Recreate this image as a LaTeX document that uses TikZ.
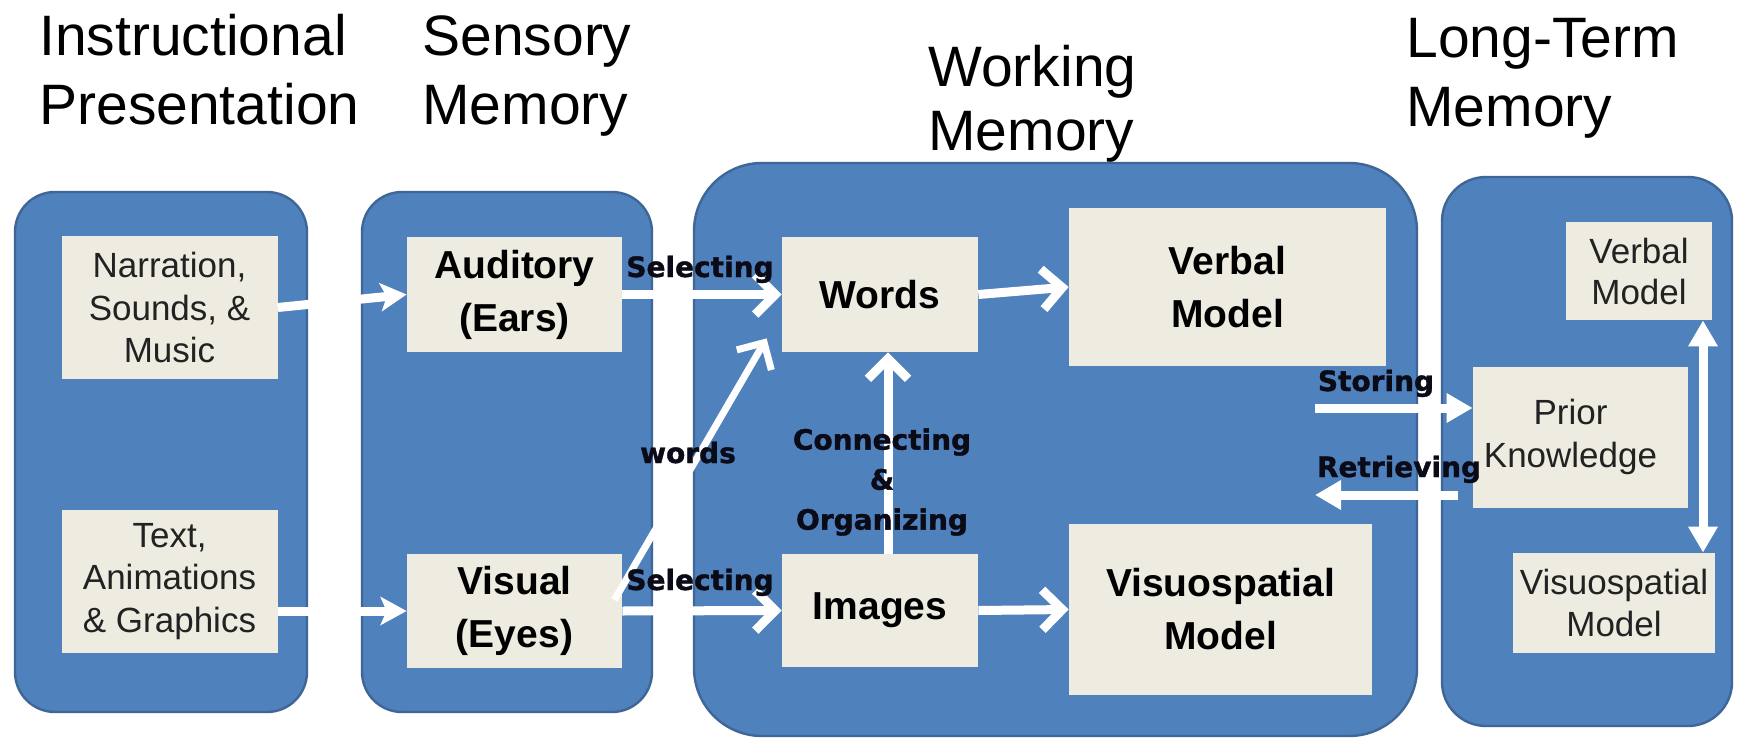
\documentclass[tikz,border=0pt]{standalone}
\usepackage{fontspec}
\setmainfont{Liberation Sans}
\newfontfamily\labfont{DejaVu Sans}[BoldFeatures={FakeBold=1.3}]
\usetikzlibrary{arrows.meta}
\definecolor{panelblue}{HTML}{4F81BD}
\definecolor{paneledge}{HTML}{3E6696}
\definecolor{boxbeige}{HTML}{EEECE1}
\definecolor{labink}{HTML}{0B0B18}
\definecolor{thinink}{HTML}{222222}
\begin{document}
\begin{tikzpicture}[x=0.5pt,y=0.5pt,
  panel/.style={fill=panelblue,draw=paneledge,line width=1.2pt},
  box/.style={fill=boxbeige,inner sep=0pt,align=center},
  thinbox/.style={box,text=thinink,font=\fontsize{17.5}{21.25}\selectfont},
  boldbox/.style={box,text=black,font=\bfseries\fontsize{19.5}{26.5}\selectfont},
  head/.style={anchor=base west,inner sep=0pt,font=\fontsize{28.5}{34.5}\selectfont},
  lab/.style={anchor=base,inner sep=0pt,text=labink,align=center,font=\labfont\bfseries\fontsize{14}{20}\selectfont},
  wa/.style={draw=white,line width=4.5pt},
  chev/.style={wa,-{Straight Barb[length=10pt,width=20pt]}},
  stl/.style={wa,-{Stealth[length=13pt,width=14pt,inset=3pt]}},
  tri/.style={wa,-{Triangle[length=13pt,width=14pt]}},
  dtri/.style={wa,{Triangle[length=13pt,width=14pt]}-{Triangle[length=13pt,width=14pt]}}
]
\useasboundingbox (0,0) rectangle (1743,740);
\fill[white] (0,0) rectangle (1743,740);

% headings
\node[head] (h1a) at (39,684) {Instructional};
\node[head] (h1b) at (39,615) {Presentation};
\node[head] (h2a) at (422,684) {Sensory};
\node[head] (h2b) at (422,615) {Memory};
\node[head] (h3a) at (928,653) {Working};
\node[head] (h3b) at (928,589) {Memory};
\node[head] (h4a) at (1406,682) {Long-Term};
\node[head] (h4b) at (1406,613) {Memory};

% panels
\draw[panel,rounded corners=20pt] (15,28) rectangle (307,548);
\draw[panel,rounded corners=20pt] (362,28) rectangle (652,548);
\draw[panel,rounded corners=34pt] (694,4) rectangle (1417,577);
\draw[panel,rounded corners=22pt] (1442,14) rectangle (1732,563);

% boxes
\node[thinbox,minimum width=108pt,minimum height=71pt] (narr) at (169.5,432.5) {Narration,\\Sounds, \&\\Music};
\node[thinbox,minimum width=108pt,minimum height=71.5pt] (text) at (169.5,158.5) {Text,\\Animations\\\& Graphics};
\node[boldbox,minimum width=107.5pt,minimum height=57.5pt] (aud) at (514.5,445.5) {Auditory\\(Ears)};
\node[boldbox,minimum width=107.5pt,minimum height=57pt] (vis) at (514.5,129) {Visual\\(Eyes)};
\node[boldbox,minimum width=98pt,minimum height=57.5pt] (words) at (880,445.5) {Words};
\node[boldbox,minimum width=98pt,minimum height=56.5pt] (img) at (880,129.5) {Images};
\node[boldbox,minimum width=158.5pt,minimum height=79pt] (vm) at (1227.5,453) {Verbal\\Model};
\node[boldbox,minimum width=151.5pt,minimum height=85.5pt] (vsm) at (1220.5,130.5) {Visuospatial\\Model};
\node[thinbox,minimum width=73pt,minimum height=49pt,font=\fontsize{17.5}{20.5}\selectfont] (lvm) at (1639,469) {Verbal\\Model};
\node[thinbox,minimum width=107.5pt,minimum height=70.5pt,font=\fontsize{17.5}{21.5}\selectfont] (prior) at (1580.5,302.5) {\begin{tabular}{@{}c@{\hspace{10pt}}}Prior\\Knowledge\end{tabular}};
\node[thinbox,minimum width=101pt,minimum height=50pt,font=\fontsize{17.5}{21}\selectfont] (lvs) at (1614,137) {Visuospatial\\Model};

% connectors
\draw[stl] (narr.east) -- (aud.west);
\draw[stl] (text.east |- vis.west) -- (vis.west);
\draw[chev] (aud.east) -- (words.west);
\draw[chev] (vis.east) -- (img.west);
\draw[chev,line width=3.5pt] ([shift={(-8,11)}]vis.east) -- ([shift={(-15,14)}]words.south west);
\draw[chev] (words.east) -- (vm.west);
\draw[chev] (img.east) -- (vsm.west);
\draw[chev] ([xshift=4pt]img.north) -- ([xshift=4pt]words.south);
\coordinate (st) at (1315,332);
\draw[tri] (st) -- (st -| prior.west);
\coordinate (rt) at (1315,245);
\draw[tri] ([xshift=-7.5pt]prior.west |- rt) -- (rt);
\coordinate (dx) at (1703,0);
\draw[dtri] (dx |- lvm.south) -- (dx |- lvs.north);

% labels
\node[lab] (l1) at (700,463) {Selecting};
\node[lab] (l2) at (700,150) {Selecting};
\node[lab] (l3) at (688,277) {words};
\node[lab,anchor=north] (l4) at (882,312) {Connecting\\\&\\Organizing};
\node[lab] (l5) at (1376,349) {Storing};
\node[lab] (l6) at (1399,263) {Retrieving};
\end{tikzpicture}
\end{document}
